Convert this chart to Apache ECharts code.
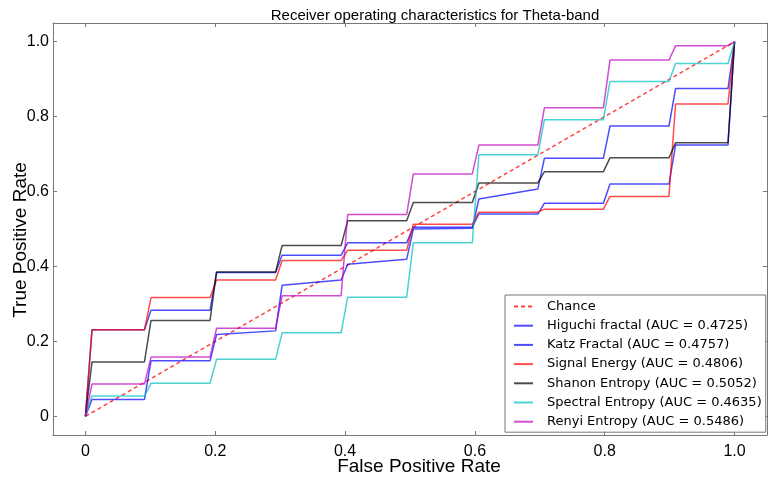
<!DOCTYPE html>
<html><head><meta charset="utf-8">
<script src="https://cdn.jsdelivr.net/npm/echarts@6/dist/echarts.min.js"></script>
<style>html,body{margin:0;padding:0;background:#fff}#c{width:768px;height:484px}</style>
</head><body><div id="c"></div>
<script>
// Shared false-positive-rate knots (mean ROC grid points around each step)
const fprGrid = [0, 0.0101, 0.0909, 0.1010, 0.1919, 0.2020, 0.2929, 0.3030, 0.3939, 0.4040,
  0.4949, 0.5051, 0.5960, 0.6061, 0.6970, 0.7071, 0.7980, 0.8081, 0.8990, 0.9091, 0.9899, 1.0];
const chanceFpr = [0, 1];
const chanceTpr = [0, 1];
const higuchiTpr  = [0, 0.045,0.045, 0.148,0.148, 0.218,0.228, 0.350,0.364, 0.406,0.419, 0.500,0.502, 0.580,0.607, 0.689,0.689, 0.775,0.775, 0.875,0.875, 1];
const katzTpr     = [0, 0.231,0.231, 0.283,0.283, 0.384,0.384, 0.430,0.430, 0.463,0.463, 0.505,0.505, 0.540,0.540, 0.569,0.569, 0.620,0.620, 0.724,0.724, 1];
const energyTpr   = [0, 0.231,0.231, 0.317,0.317, 0.364,0.364, 0.416,0.416, 0.443,0.443, 0.513,0.513, 0.545,0.545, 0.553,0.553, 0.587,0.587, 0.834,0.834, 1];
const shanonTpr   = [0, 0.145,0.145, 0.256,0.256, 0.385,0.385, 0.456,0.456, 0.522,0.522, 0.571,0.571, 0.623,0.623, 0.653,0.653, 0.690,0.690, 0.730,0.730, 1];
const spectralTpr = [0, 0.054,0.054, 0.088,0.088, 0.152,0.152, 0.223,0.223, 0.318,0.318, 0.463,0.463, 0.698,0.698, 0.792,0.792, 0.894,0.894, 0.942,0.942, 1];
const renyiTpr    = [0, 0.086,0.086, 0.158,0.158, 0.235,0.235, 0.322,0.322, 0.539,0.539, 0.647,0.647, 0.724,0.724, 0.824,0.824, 0.951,0.951, 0.989,0.989, 1];
const featureNames = ['Higuchi fractal', 'Katz Fractal', 'Signal Energy', 'Shanon Entropy', 'Spectral Entropy', 'Renyi Entropy'];
const aucValues = ['0.4725', '0.4757', '0.4806', '0.5052', '0.4635', '0.5486'];
const tickValues = [0, 0.2, 0.4, 0.6, 0.8, 1.0];
const tickLabels = ['0', '0.2', '0.4', '0.6', '0.8', '1.0'];

const colors = ['#0000ff', '#0000ff', '#ff0000', '#000000', '#00bfbf', '#bf00bf'];
const tprs = [higuchiTpr, katzTpr, energyTpr, shanonTpr, spectralTpr, renyiTpr];
const names = featureNames.map((n, i) => n + ' (AUC = ' + aucValues[i] + ')');

const fmt = v => { const i = tickValues.findIndex(t => Math.abs(t - v) < 1e-6); return i >= 0 ? tickLabels[i] : ''; };
const frameColor = '#777';
const tickFont = { fontFamily: 'Liberation Sans', fontSize: 16, color: '#000' };

function axisBase(pos, isX, main) {
  return {
    type: 'value', min: -0.05, max: 1.05, position: pos,
    axisLine: { show: true, onZero: false, lineStyle: { color: frameColor, width: 1 } },
    axisTick: { show: true, inside: true, length: 4, customValues: tickValues, lineStyle: { color: frameColor } },
    axisLabel: main ? Object.assign({ show: true, customValues: tickValues, formatter: fmt, margin: isX ? 9 : 4 }, tickFont) : { show: false },
    splitLine: { show: false }
  };
}

const xMain = axisBase('bottom', true, true);
Object.assign(xMain, { name: 'False Positive Rate', nameLocation: 'middle', nameGap: 22, nameMoveOverlap: false,
  nameTextStyle: { fontFamily: 'Liberation Sans', fontSize: 19, color: '#000', padding: [0, 0, 0, 18] } });
const yMain = axisBase('left', false, true);
Object.assign(yMain, { name: 'True Positive Rate', nameLocation: 'middle', nameGap: 23, nameRotate: 90, nameMoveOverlap: false,
  nameTextStyle: { fontFamily: 'Liberation Sans', fontSize: 19, color: '#000', padding: [0, 22, 0, 0] } });

const series = [{
  name: 'Chance', type: 'line', xAxisIndex: 0, yAxisIndex: 0,
  data: chanceFpr.map((x, i) => [x, chanceTpr[i]]),
  symbol: 'none', showSymbol: false,
  lineStyle: { color: '#ff0000', width: 1.5, type: [4, 3], opacity: 0.75 },
  itemStyle: { color: '#ff0000', opacity: 0.75 }
}];
tprs.forEach((t, k) => {
  series.push({
    name: names[k], type: 'line', xAxisIndex: 0, yAxisIndex: 0,
    data: fprGrid.map((x, i) => [x, t[i]]),
    symbol: 'none', showSymbol: false,
    lineStyle: { color: colors[k], width: 1.5, opacity: 0.7 },
    itemStyle: { color: colors[k], opacity: 0.7 }
  });
});

const chart = echarts.init(document.getElementById('c'), null, { renderer: 'canvas' });
chart.setOption({
  animation: false,
  backgroundColor: '#fff',
  title: { text: 'Receiver operating characteristics for Theta-band', left: 430, textAlign: 'center', top: 3,
    textStyle: { fontFamily: 'Liberation Sans', fontSize: 15, fontWeight: 'normal', color: '#000' } },
  grid: { left: 53, right: 1, top: 23, bottom: 49, containLabel: false, outerBoundsMode: 'none' },
  xAxis: [xMain, axisBase('top', true, false)],
  yAxis: [yMain, axisBase('right', false, false)],
  legend: {
    orient: 'vertical', left: 505, top: 295, padding: [5, 4, 4, 8],
    itemWidth: 19, itemHeight: 13, itemGap: 6.2,
    borderColor: frameColor, borderWidth: 1, borderRadius: 0, backgroundColor: '#fff',
    itemStyle: { opacity: 0 },
    textStyle: { fontFamily: 'DejaVu Sans', fontSize: 13, color: '#000', padding: [0, 0, 0, 9] },
    data: ['Chance'].concat(names)
  },
  series: series
});
</script></body></html>
